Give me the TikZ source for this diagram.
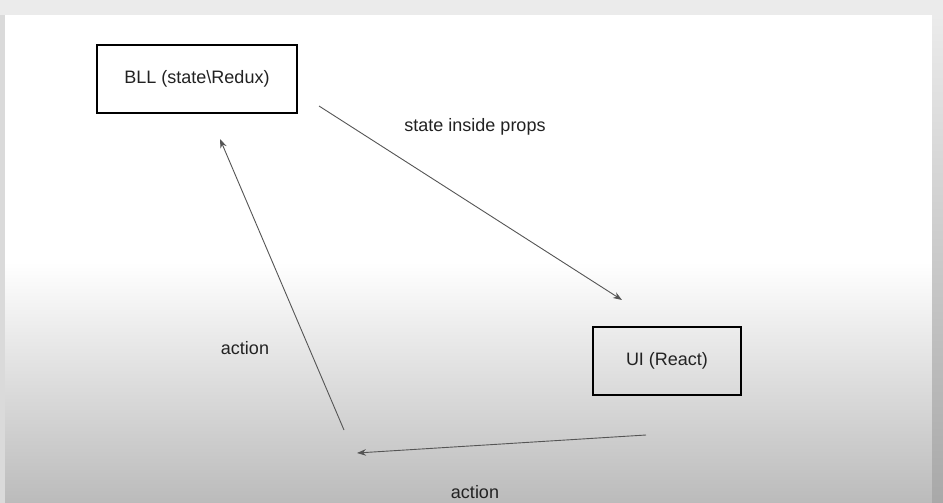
\documentclass[tikz,border=0pt]{standalone}
\usepackage{fontspec}
\setmainfont{Liberation Sans}
\usetikzlibrary{positioning,arrows.meta}

\definecolor{stripgray}{HTML}{EBEBEB}
\definecolor{edgegray}{HTML}{DADADA}
\definecolor{floorgray}{HTML}{BBBBBB}
\definecolor{linegray}{HTML}{555555}
\definecolor{textdark}{HTML}{222222}

\tikzset{
    layer/.style={draw=black, line width=2.6pt, minimum width=#1, minimum height=68pt, inner sep=0pt, text=textdark},
    flow/.style={draw=linegray, line width=0.9pt, -{Stealth[length=9pt,width=6.5pt]}},
    caption/.style={text=textdark}
}

\begin{document}
\begin{tikzpicture}[x=1pt, y=-1pt, font=\fontsize{18}{22}\selectfont]
    \useasboundingbox (0,0) rectangle (943,503);

    % Background
    \fill[stripgray] (0,0) rectangle (943,15);
    \fill[edgegray] (0,15) rectangle (5,503);
    \fill[white] (5,15) rectangle (932,262);
    \shade[top color=white, bottom color=floorgray] (5,262) rectangle (932,503);
    \shade[top color=stripgray, bottom color=floorgray!90!black] (932,15) rectangle (943,503);

    % Layers
    \node[layer=200pt] (bll) at (197,79) {BLL (state\textbackslash Redux)};
    \node[layer=148pt] (ui) at (667,361) {UI (React)};

    % Flow ends
    \coordinate (propsFrom) at (319,106);
    \coordinate (propsTo) at (622,300);
    \coordinate (upFrom) at (344,430);
    \coordinate (upTo) at (220,139);
    \coordinate (backFrom) at (646,435);
    \coordinate (backTo) at (357,453);

    \draw[flow] (propsFrom) -- (propsTo);
    \draw[flow] (upFrom) -- (upTo);
    \draw[flow] (backFrom) -- (backTo);

    % Labels
    \node[caption] (propsLabel) at (475,127) {state inside props};
    \node[caption] (upLabel) at (245,348) {action};
    \node[caption] (backLabel) at (475,492) {action};
\end{tikzpicture}
\end{document}
